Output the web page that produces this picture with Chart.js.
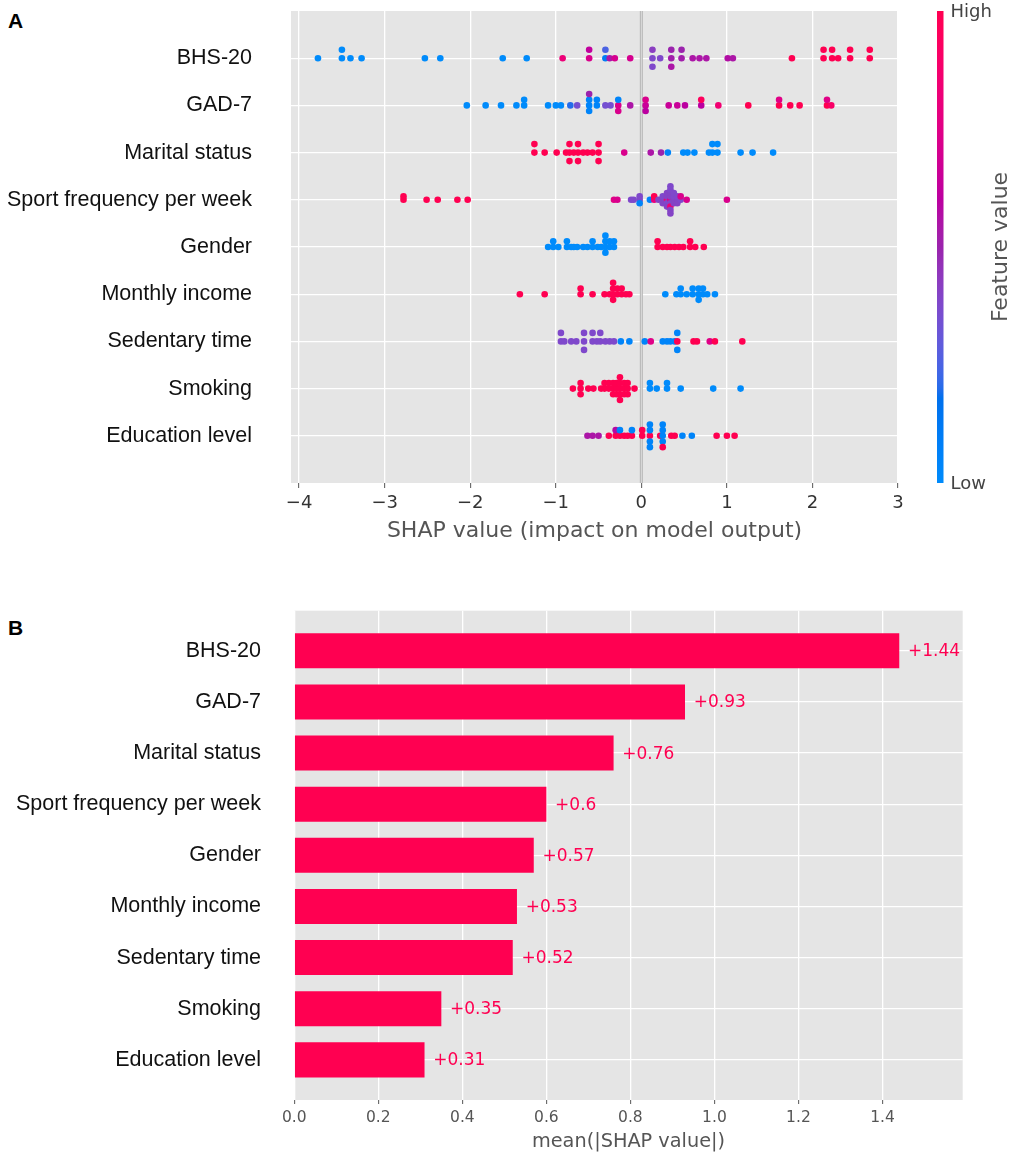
<!DOCTYPE html>
<html>
<head>
<meta charset="utf-8">
<script src="https://cdn.jsdelivr.net/npm/chart.js@4.4.1/dist/chart.umd.min.js"></script>
<style>
  html, body { margin: 0; padding: 0; background: #ffffff; }
  #wrap { position: relative; width: 1013px; height: 1157px; overflow: hidden; }
  canvas { position: absolute; left: 0; }
  .panel { position: absolute; left: 8px; font: bold 21px 'Liberation Sans', Arial, sans-serif; line-height: 21px; color: #000; }
</style>
</head>
<body>
<div id="wrap">
  <div class="panel" style="top:10px">A</div>
  <div class="panel" style="top:617px">B</div>
  <canvas id="chartA" width="1013" height="570" style="top:0;width:1013px;height:570px"></canvas>
  <canvas id="chartB" width="1013" height="577" style="top:580px;width:1013px;height:577px"></canvas>
</div>
<script>
// ---------------- data ----------------
const features = ["BHS-20", "GAD-7", "Marital status", "Sport frequency per week", "Gender",
                  "Monthly income", "Sedentary time", "Smoking", "Education level"];

// mean(|SHAP value|) per feature (panel B)
const meanAbsShap = [1.44, 0.93, 0.76, 0.60, 0.57, 0.53, 0.52, 0.35, 0.31];

const xTicksA = [-4, -3, -2, -1, 0, 1, 2, 3];
const xTicksB = [0.0, 0.2, 0.4, 0.6, 0.8, 1.0, 1.2, 1.4];

// SHAP values (panel A) and normalised feature values (0 = low, 1 = high)
const shapBHS20 = [-3.78, -3.50, -3.50, -3.40, -3.27, -2.53, -2.35, -1.62, -1.34, -0.92, -0.61, -0.61, -0.42, -0.42, -0.37, -0.31, -0.13, 0.13, 0.13, 0.13, 0.22, 0.35, 0.35, 0.35, 0.47, 0.47, 0.60, 0.68, 0.76, 1.01, 1.07, 1.76, 2.13, 2.13, 2.23, 2.23, 2.30, 2.44, 2.44, 2.67, 2.67];
const featBHS20 = [0, 0, 0, 0, 0, 0, 0, 0, 0, 0.82, 0.72, 0.62, 0.1, 0.25, 0.55, 0.7, 0.7, 0.38, 0.42, 0.38, 0.38, 0.52, 0.5, 0.55, 0.52, 0.5, 0.55, 0.55, 0.55, 0.57, 0.55, 1, 1, 1, 1, 1, 1, 1, 1, 1, 1];

const shapGAD7 = [-2.04, -1.82, -1.64, -1.46, -1.37, -1.37, -1.09, -1.00, -0.94, -0.83, -0.75, -0.61, -0.61, -0.61, -0.61, -0.52, -0.52, -0.42, -0.36, -0.27, -0.27, -0.27, -0.13, 0.05, 0.05, 0.05, 0.32, 0.42, 0.51, 0.70, 0.70, 0.90, 1.25, 1.61, 1.61, 1.74, 1.85, 2.17, 2.17, 2.22];
const featGAD7 = [0, 0, 0, 0, 0, 0, 0, 0, 0, 0.2, 0.35, 0.05, 0.05, 0.05, 0.5, 0.05, 0.05, 0.35, 0.35, 0.72, 0.05, 0.72, 0.55, 0.65, 0.72, 0.6, 0.65, 0.65, 0.6, 0.6, 0.95, 0.85, 1, 1, 0.75, 1, 1, 1, 0.75, 0.9];

const shapMarital = [-1.25, -1.25, -1.13, -0.99, -0.88, -0.84, -0.84, -0.84, -0.79, -0.74, -0.74, -0.74, -0.68, -0.63, -0.57, -0.50, -0.50, -0.50, -0.20, 0.11, 0.23, 0.31, 0.49, 0.54, 0.62, 0.79, 0.83, 0.83, 0.89, 0.89, 1.16, 1.30, 1.54];
const featMarital = [1, 1, 1, 1, 1, 1, 1, 1, 1, 1, 1, 1, 1, 1, 1, 1, 1, 1, 0.72, 0.55, 0.5, 0.05, 0, 0, 0, 0, 0, 0, 0, 0, 0, 0, 0];

const shapSport = [-2.78, -2.78, -2.51, -2.38, -2.15, -2.03, -0.32, -0.28, -0.12, -0.09, -0.02, -0.02, -0.02, 0.10, 0.15, 0.15, 0.20, 0.25, 0.25, 0.25, 0.30, 0.30, 0.30, 0.30, 0.30, 0.34, 0.34, 0.34, 0.34, 0.34, 0.34, 0.34, 0.34, 0.34, 0.38, 0.38, 0.38, 0.38, 0.42, 0.42, 0.42, 0.46, 0.46, 0.53, 1.00];
const featSport = [1, 1, 1, 1, 1, 1, 0.75, 0.72, 0.38, 0.38, 0.38, 0.38, 0.05, 0.05, 0.8, 1, 0.4, 0.4, 0.38, 0.4, 0.85, 0.4, 0.38, 0.4, 0.4, 0.72, 0.4, 0.38, 0.4, 0.85, 0.38, 0.4, 0.38, 0.4, 0.4, 0.38, 0.4, 0.38, 0.4, 0.38, 0.4, 0.38, 0.72, 0.72, 0.72];

const shapGender = [-1.09, -1.03, -1.03, -0.97, -0.87, -0.87, -0.82, -0.79, -0.75, -0.68, -0.63, -0.57, -0.57, -0.51, -0.47, -0.42, -0.42, -0.42, -0.42, -0.37, -0.37, -0.32, -0.32, 0.19, 0.19, 0.25, 0.30, 0.34, 0.39, 0.44, 0.49, 0.57, 0.57, 0.63, 0.73];
const featGender = [0, 0, 0, 0, 0, 0, 0, 0, 0, 0, 0, 0, 0, 0, 0, 0, 0, 0, 0, 0, 0, 0, 0, 1, 1, 1, 1, 1, 1, 1, 1, 1, 1, 1, 1];

const shapIncome = [-1.42, -1.13, -0.71, -0.71, -0.57, -0.43, -0.37, -0.33, -0.33, -0.33, -0.33, -0.28, -0.28, -0.23, -0.23, -0.18, -0.14, 0.28, 0.41, 0.46, 0.46, 0.53, 0.60, 0.60, 0.67, 0.67, 0.67, 0.72, 0.72, 0.77, 0.86];
const featIncome = [1, 1, 1, 1, 1, 1, 1, 1, 1, 1, 1, 1, 1, 1, 1, 1, 1, 0, 0, 0, 0, 0, 0, 0, 0, 0, 0, 0, 0, 0, 0];

const shapSedentary = [-0.94, -0.94, -0.90, -0.82, -0.76, -0.67, -0.67, -0.67, -0.57, -0.57, -0.52, -0.48, -0.48, -0.42, -0.37, -0.32, -0.24, -0.14, 0.04, 0.11, 0.25, 0.30, 0.34, 0.39, 0.42, 0.42, 0.42, 0.61, 0.65, 0.80, 0.86, 1.18];
const featSedentary = [0.38, 0.38, 0.38, 0.38, 0.38, 0.38, 0.38, 0.38, 0.38, 0.38, 0.38, 0.38, 0.38, 0.38, 0.38, 0.38, 0.05, 0.05, 0.05, 0.75, 0.05, 0.05, 0.05, 0.05, 1, 0.05, 0.05, 1, 1, 0.75, 1, 1];

const shapSmoking = [-0.80, -0.71, -0.71, -0.71, -0.62, -0.56, -0.47, -0.43, -0.43, -0.38, -0.38, -0.33, -0.33, -0.33, -0.29, -0.29, -0.29, -0.25, -0.25, -0.25, -0.25, -0.25, -0.20, -0.20, -0.20, -0.16, -0.16, -0.16, -0.08, 0.10, 0.10, 0.18, 0.30, 0.30, 0.46, 0.84, 1.16];
const featSmoking = [1, 1, 1, 1, 1, 1, 1, 1, 1, 1, 1, 1, 1, 1, 1, 1, 1, 1, 1, 1, 1, 1, 1, 1, 1, 1, 1, 1, 1, 0, 0, 0, 0, 0, 0, 0, 0];

const shapEducation = [-0.63, -0.57, -0.50, -0.38, -0.30, -0.30, -0.25, -0.25, -0.20, -0.16, -0.11, -0.11, 0.01, 0.01, 0.10, 0.10, 0.10, 0.10, 0.10, 0.22, 0.25, 0.25, 0.25, 0.25, 0.25, 0.35, 0.39, 0.48, 0.59, 0.88, 1.00, 1.09];
const featEducation = [0.55, 0.55, 0.55, 1, 1, 0.58, 1, 0.05, 1, 1, 1, 0.05, 1, 1, 1, 0.05, 0.05, 0.05, 0.05, 1, 0.05, 0.05, 0.05, 0.05, 1, 1, 1, 0.05, 0.05, 1, 1, 1];

const shapRows = [shapBHS20, shapGAD7, shapMarital, shapSport, shapGender, shapIncome, shapSedentary, shapSmoking, shapEducation];
const featRows = [featBHS20, featGAD7, featMarital, featSport, featGender, featIncome, featSedentary, featSmoking, featEducation];

// ---------------- SHAP red_blue colormap (LCH interpolation) ----------------
function lch2rgb(L, C, H) {
  const a = C * Math.cos(H), b = C * Math.sin(H);
  const fy = (L + 16) / 116, fx = fy + a / 500, fz = fy - b / 200;
  const f = t => (t * t * t > 0.008856 ? t * t * t : (t - 16 / 116) / 7.787);
  const X = 0.95047 * f(fx), Y = 1.0 * f(fy), Z = 1.08883 * f(fz);
  const lin = [
    3.2404542 * X - 1.5371385 * Y - 0.4985314 * Z,
    -0.9692660 * X + 1.8760108 * Y + 0.0415560 * Z,
    0.0556434 * X - 0.2040259 * Y + 1.0572252 * Z
  ];
  return lin.map(c => {
    c = Math.max(0, c);
    const g = c > 0.0031308 ? 1.055 * Math.pow(c, 1 / 2.4) - 0.055 : 12.92 * c;
    return Math.round(255 * Math.min(1, Math.max(0, g)));
  });
}
function cmap(t) {
  t = Math.min(1, Math.max(0, t));
  const L = t < 0.5 ? 54 + (40 - 54) * (t / 0.5) : 40 + (54 - 40) * ((t - 0.5) / 0.5);
  const C = 70 + (90 - 70) * t;
  const H0 = 4.6588, H1 = 0.35470565 + 2 * Math.PI;
  const [r, g, b] = lch2rgb(L, C, H0 + (H1 - H0) * t);
  return `rgb(${r},${g},${b})`;
}
const RED = cmap(1);

// ---------------- beeswarm layout (as in shap.summary_plot) ----------------
function beeswarm(vals, rowHeight) {
  const n = vals.length;
  const mn = Math.min(...vals), mx = Math.max(...vals);
  const quant = vals.map(v => Math.round(100 * (v - mn) / (mx - mn + 1e-8)));
  const inds = vals.map((_, i) => i).sort((a, b) => (quant[a] - quant[b]) || (a - b));
  const ys = new Array(n).fill(0);
  let layer = 0, last = -1;
  for (const ind of inds) {
    if (quant[ind] !== last) layer = 0;
    ys[ind] = Math.ceil(layer / 2) * ((layer % 2) * 2 - 1);
    layer += 1;
    last = quant[ind];
  }
  const m = Math.max(...ys.map(y => y + 1));
  return ys.map(y => y * 0.9 * rowHeight / m);
}

// ---------------- plugins ----------------
const grayBg = {
  id: 'grayBg',
  beforeDraw(chart) {
    const {ctx, chartArea: a} = chart;
    ctx.save();
    ctx.fillStyle = '#e5e5e5';
    ctx.fillRect(a.left, a.top, a.right - a.left, a.bottom - a.top);
    ctx.restore();
  }
};

const zeroLine = {
  id: 'zeroLine',
  beforeDatasetsDraw(chart) {
    const {ctx, chartArea: a, scales} = chart;
    const x = scales.x.getPixelForValue(0);
    ctx.save();
    ctx.strokeStyle = '#b5b5b5';
    ctx.lineWidth = 3;
    ctx.beginPath(); ctx.moveTo(x, a.top); ctx.lineTo(x, a.bottom); ctx.stroke();
    ctx.strokeStyle = '#dcdcdc';
    ctx.lineWidth = 1;
    ctx.beginPath(); ctx.moveTo(x, a.top); ctx.lineTo(x, a.bottom); ctx.stroke();
    ctx.restore();
  }
};

const colorBar = {
  id: 'colorBar',
  afterDraw(chart) {
    const {ctx, chartArea: a} = chart;
    const x0 = 937, w = 6.5;
    ctx.save();
    const grad = ctx.createLinearGradient(0, a.bottom, 0, a.top);
    for (let i = 0; i <= 50; i++) grad.addColorStop(i / 50, cmap(i / 50));
    ctx.fillStyle = grad;
    ctx.fillRect(x0, a.top, w, a.bottom - a.top);
    ctx.fillStyle = '#444';
    ctx.font = "18px 'DejaVu Sans'";
    ctx.textAlign = 'left';
    ctx.textBaseline = 'middle';
    ctx.fillText('High', x0 + w + 7, a.top + 1);
    ctx.fillText('Low', x0 + w + 7, a.bottom + 1);
    ctx.translate(1001, (a.top + a.bottom) / 2);
    ctx.rotate(-Math.PI / 2);
    ctx.textAlign = 'center';
    ctx.fillStyle = '#555';
    ctx.font = "22px 'DejaVu Sans'";
    ctx.fillText('Feature value', 0, 0);
    ctx.restore();
  }
};

const barLabels = {
  id: 'barLabels',
  afterDatasetsDraw(chart) {
    const {ctx} = chart;
    const meta = chart.getDatasetMeta(0);
    ctx.save();
    ctx.fillStyle = RED;
    ctx.font = "17px 'DejaVu Sans'";
    ctx.textAlign = 'left';
    ctx.textBaseline = 'middle';
    meta.data.forEach((el, i) => {
      const v = meanAbsShap[i];
      ctx.fillText('+' + String(Number(v.toFixed(2))), el.x + 8.7, el.y + 1);
    });
    ctx.restore();
  }
};

// ---------------- Panel A: beeswarm ----------------
const datasetsA = shapRows.map((vals, r) => {
  const off = beeswarm(vals, 0.4);
  return {
    label: features[r],
    data: vals.map((v, i) => ({x: v, y: r - off[i]})),
    pointBackgroundColor: featRows[r].map(cmap),
    pointBorderWidth: 0,
    pointRadius: 3.3,
    pointHoverRadius: 3.3,
    showLine: false
  };
});

new Chart(document.getElementById('chartA'), {
  type: 'scatter',
  data: {datasets: datasetsA},
  options: {
    responsive: false,
    animation: false,
    events: [],
    layout: {padding: {left: 0, right: 115, top: 11, bottom: 0}},
    plugins: {legend: {display: false}, tooltip: {enabled: false}},
    scales: {
      x: {
        type: 'linear',
        min: -4.095,
        max: 3.0,
        afterBuildTicks: s => { s.ticks = xTicksA.map(v => ({value: v})); },
        afterFit: s => { s.height = 87; s.paddingLeft = 0; s.paddingRight = 0; },
        border: {display: false},
        grid: {color: '#ffffff', lineWidth: 1.3, drawTicks: true, tickLength: 5, tickColor: '#555555', tickWidth: 1},
        ticks: {
          maxRotation: 0, autoSkip: false, padding: 4.7, color: '#333333',
          font: {family: "'DejaVu Sans'", size: 18},
          callback: v => (v < 0 ? '\u2212' + Math.abs(v) : String(v))
        },
        title: {
          display: true, text: 'SHAP value (impact on model output)', color: '#555555',
          font: {family: "'DejaVu Sans'", size: 22}, padding: {top: 0, bottom: 25.8}
        }
      },
      y: {
        type: 'linear',
        reverse: true,
        min: -1,
        max: 9,
        afterBuildTicks: s => { s.ticks = features.map((_, i) => ({value: i})); },
        afterFit: s => { s.width = 291; s.paddingTop = 0; s.paddingBottom = 0; },
        border: {display: false},
        grid: {color: '#ffffff', lineWidth: 1.3, drawTicks: false},
        ticks: {
          autoSkip: false, padding: 39, color: '#111111',
          font: {family: "'Liberation Sans'", size: 21.5},
          callback: v => features[v]
        }
      }
    }
  },
  plugins: [grayBg, zeroLine, colorBar]
});

// ---------------- Panel B: mean |SHAP| bars ----------------
new Chart(document.getElementById('chartB'), {
  type: 'bar',
  data: {
    datasets: [{
      data: meanAbsShap.map((v, i) => ({x: v, y: i})),
      backgroundColor: RED,
      borderWidth: 0,
      barPercentage: 0.685,
      categoryPercentage: 1.0
    }]
  },
  options: {
    indexAxis: 'y',
    responsive: false,
    animation: false,
    events: [],
    layout: {padding: {left: 0, right: 50.3, top: 30.7, bottom: 0}},
    plugins: {legend: {display: false}, tooltip: {enabled: false}},
    scales: {
      x: {
        type: 'linear',
        min: 0,
        max: 1.591,
        afterBuildTicks: s => { s.ticks = xTicksB.map(v => ({value: v})); },
        afterFit: s => { s.height = 57; s.paddingLeft = 0; s.paddingRight = 0; },
        border: {display: false},
        grid: {color: '#ffffff', lineWidth: 1.3, drawTicks: true, tickLength: 4, tickColor: '#555555', tickWidth: 1},
        ticks: {
          maxRotation: 0, autoSkip: false, padding: 4.4, color: '#555555',
          font: {family: "'DejaVu Sans'", size: 15.5},
          callback: v => v.toFixed(1)
        },
        title: {
          display: true, text: 'mean(|SHAP value|)', color: '#555555',
          font: {family: "'DejaVu Sans'", size: 19.3}, padding: {top: 0, bottom: 3.4}
        }
      },
      y: {
        type: 'linear',
        reverse: true,
        offset: false,
        min: -0.785,
        max: 8.785,
        afterBuildTicks: s => { s.ticks = features.map((_, i) => ({value: i})); },
        afterFit: s => { s.width = 294.3; s.paddingTop = 0; s.paddingBottom = 0; },
        border: {display: false},
        grid: {color: '#ffffff', lineWidth: 1.3, drawTicks: false, offset: false},
        ticks: {
          autoSkip: false, padding: 33.3, color: '#111111',
          font: {family: "'Liberation Sans'", size: 21.5},
          callback: v => features[v]
        }
      }
    }
  },
  plugins: [grayBg, barLabels]
});
</script>
</body>
</html>
